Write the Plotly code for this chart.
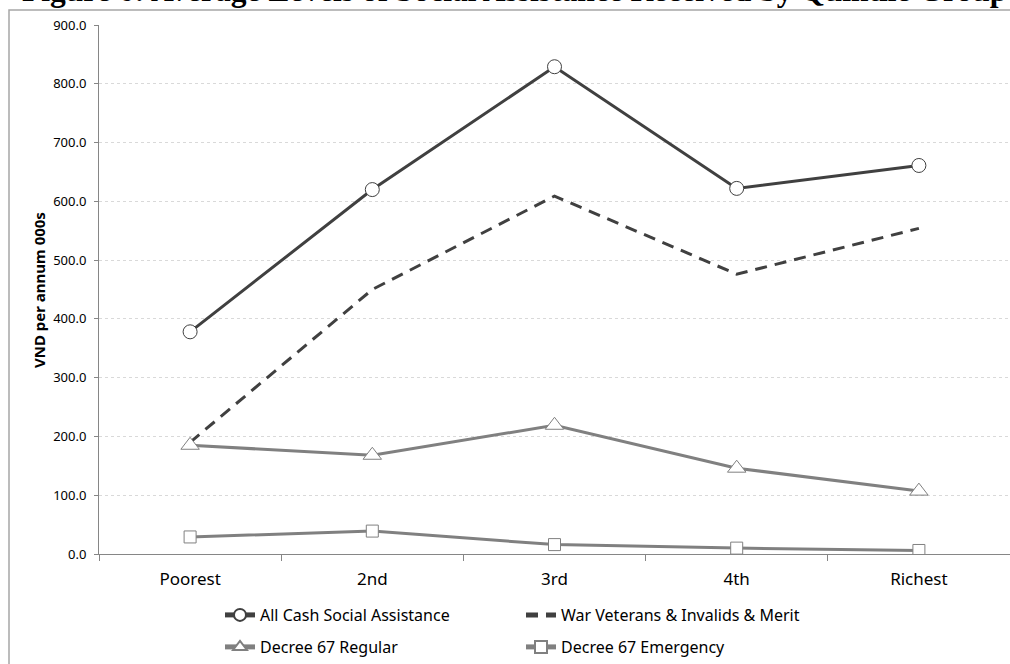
import plotly.graph_objects as go

quintiles = ["Poorest", "2nd", "3rd", "4th", "Richest"]
all_cash = [378, 620, 829, 622, 661]
war_veterans = [190, 450, 609, 476, 554]
decree67_regular = [185, 168, 219, 146, 107]
decree67_emergency = [29, 39, 16, 10, 6]

W, H = 1010, 664
ML, MR, MT, MB = 99, 0, 25, 110
PW, PH = W - ML - MR, H - MT - MB

def px_x(p):
    return (p - ML) / PW

def px_y(p):
    return (H - MB - p) / PH

dark = "#404040"
grey = "#808080"

fig = go.Figure()
fig.add_trace(go.Scatter(
    x=quintiles, y=all_cash, name="All Cash Social Assistance", mode="lines+markers",
    line=dict(color=dark, width=3),
    marker=dict(symbol="circle", size=14, color="white", line=dict(color=dark, width=1)),
    legend="legend"))
fig.add_trace(go.Scatter(
    x=quintiles, y=war_veterans, name="War Veterans & Invalids & Merit", mode="lines",
    line=dict(color=dark, width=3, dash="12px,8px"),
    legend="legend"))
fig.add_trace(go.Scatter(
    x=quintiles, y=decree67_regular, name="Decree 67 Regular", mode="lines+markers",
    line=dict(color=grey, width=3),
    marker=dict(symbol="triangle-up", size=16, color="white", line=dict(color=grey, width=1)),
    legend="legend2"))
fig.add_trace(go.Scatter(
    x=quintiles, y=decree67_emergency, name="Decree 67 Emergency", mode="lines+markers",
    line=dict(color=grey, width=3),
    marker=dict(symbol="square", size=12, color="white", line=dict(color=grey, width=1)),
    legend="legend2"))

legend_common = dict(orientation="h", xanchor="left", yanchor="middle",
                     font=dict(family="Noto Sans", size=16, color="black"),
                     entrywidth=256, bgcolor="rgba(0,0,0,0)", itemsizing="constant")

fig.update_layout(
    width=W, height=H,
    margin=dict(l=ML, r=MR, t=MT, b=MB),
    plot_bgcolor="white", paper_bgcolor="white",
    showlegend=True,
    legend=dict(x=px_x(220), y=px_y(615), **legend_common),
    legend2=dict(x=px_x(220), y=px_y(647), **legend_common),
    xaxis=dict(
        type="category", range=[-0.5, 4.5], tickson="boundaries", ticks="outside", ticklen=6,
        tickcolor="#868686", showline=True, linecolor="#868686", linewidth=1,
        showgrid=False, ticklabelstandoff=10,
        tickfont=dict(family="Noto Sans", size=17, color="black"),
    ),
    yaxis=dict(
        range=[0, 900], dtick=100, tickformat=".1f", ticks="outside", ticklen=4,
        tickcolor="#868686", showline=True, linecolor="#868686", linewidth=1,
        showgrid=True, gridcolor="#d9d9d9", griddash="dot", gridwidth=1,
        zeroline=False, ticklabelstandoff=5,
        tickfont=dict(family="Noto Sans", size=13, color="black"),
    ),
)

fig.add_annotation(
    text="VND per annum 000s", textangle=-90, showarrow=False,
    xref="paper", yref="paper", x=px_x(39), y=px_y(290),
    xanchor="center", yanchor="middle",
    font=dict(family="Noto Sans", size=15, color="black", weight="bold"))

# title is cropped at the top edge, as in the source picture
fig.add_annotation(
    text="Figure 6: Average Levels of Social Assistance Received by Quintile Group",
    showarrow=False, xref="paper", yref="paper", x=px_x(20), y=px_y(10),
    xanchor="left", yanchor="bottom",
    font=dict(family="Liberation Serif", size=31.5, color="black", weight="bold"))

# chart frame
fig.add_shape(type="rect", xref="paper", yref="paper",
              x0=px_x(9), x1=px_x(1100), y0=px_y(10), y1=px_y(720),
              line=dict(color="#a6a6a6", width=1.5), layer="below")

fig.write_html("out.html", config={"displayModeBar": False},
               post_script="document.body.style.margin='0';")
